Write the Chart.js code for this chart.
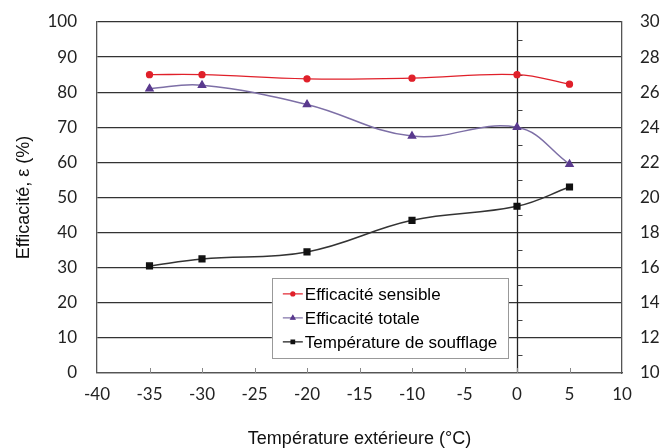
<!DOCTYPE html>
<html>
<head>
<meta charset="utf-8">
<script src="https://cdn.jsdelivr.net/npm/chart.js@4"></script>
<style>
  html, body { margin: 0; padding: 0; background: #fff; }
  #wrap { width: 663px; height: 448px; position: relative; }
</style>
</head>
<body>
<div id="wrap"><canvas id="chart"></canvas></div>
<script>
const temps = [-35, -30, -20, -10, 0, 5];
const sensible = [85, 85, 83.8, 84, 85, 82.3];
const totale = [81, 82, 76.5, 67.5, 70, 59.5];
const soufflage = [16.1, 16.5, 16.9, 18.7, 19.5, 20.6];
const labels = ['Efficacité sensible', 'Efficacité totale', 'Température de soufflage'];

const RED = '#e0202a';
const PURPLE = '#7d6fa6';
const PURPLE_PT = '#5a3a8e';
const BLACK = '#111';

const pts = arr => temps.map((t, i) => ({ x: t, y: arr[i] }));

// vertical line at x=0 with small ticks, bottom ticks, and the inner legend
const extras = {
  id: 'extras',
  beforeDatasetsDraw(chart) {
    const { ctx, chartArea: a, scales: { x, y } } = chart;
    ctx.save();
    ctx.strokeStyle = '#222';
    ctx.lineWidth = 1.3;
    const x0 = Math.round(x.getPixelForValue(0)) + 0.5;
    ctx.beginPath();
    ctx.moveTo(x0, a.top);
    ctx.lineTo(x0, a.bottom);
    ctx.stroke();
    ctx.lineWidth = 1;
    ctx.strokeStyle = '#444';
    for (let v = 5; v < 100; v += 10) {
      const py = Math.round(y.getPixelForValue(v)) + 0.5;
      ctx.beginPath();
      ctx.moveTo(x0, py);
      ctx.lineTo(x0 + 5, py);
      ctx.stroke();
    }
    ctx.strokeStyle = '#888';
    for (let v = -35; v < 10; v += 5) {
      const px = Math.round(x.getPixelForValue(v)) + 0.5;
      ctx.beginPath();
      ctx.moveTo(px, a.bottom);
      ctx.lineTo(px, a.bottom - 5);
      ctx.stroke();
    }
    ctx.restore();
  },
  afterDatasetsDraw(chart) {
    const { ctx, scales: { x, y } } = chart;
    const left = x.getPixelForValue(-23.35);
    const right = x.getPixelForValue(-0.85);
    const top = y.getPixelForValue(27.1);
    const bottom = y.getPixelForValue(4.3);
    ctx.save();
    ctx.fillStyle = '#fff';
    ctx.fillRect(left, top, right - left, bottom - top);
    ctx.strokeStyle = '#999';
    ctx.lineWidth = 1;
    ctx.strokeRect(Math.round(left) + 0.5, Math.round(top) + 0.5, Math.round(right - left), Math.round(bottom - top));
    ctx.font = '17px "Liberation Sans", Arial, sans-serif';
    ctx.textBaseline = 'middle';
    const rows = [
      { c: RED, pc: RED, s: 'circle', r: 2 },
      { c: PURPLE, pc: PURPLE_PT, s: 'triangle', r: 2.5 },
      { c: BLACK, pc: BLACK, s: 'rect', r: 2.5 }
    ];
    rows.forEach((row, i) => {
      const cy = top + 16 + i * 24;
      const lx = left + 11;
      ctx.strokeStyle = row.c;
      ctx.lineWidth = 1.2;
      ctx.beginPath();
      ctx.moveTo(lx, cy);
      ctx.lineTo(lx + 20, cy);
      ctx.stroke();
      ctx.fillStyle = row.pc;
      ctx.strokeStyle = row.pc;
      Chart.helpers.drawPoint(ctx, { pointStyle: row.s, radius: row.r, borderWidth: 1 }, lx + 10, cy);
      ctx.fill();
      ctx.fillStyle = '#000';
      ctx.fillText(labels[i], lx + 22, cy + 1);
    });
    ctx.restore();
  }
};

const fitY = w => s => {
  s.width = w;
  s.paddingTop = 0;
  s.paddingBottom = 0;
};

new Chart(document.getElementById('chart'), {
  type: 'line',
  data: {
    datasets: [{
      label: labels[0],
      data: pts(sensible),
      borderColor: RED,
      backgroundColor: RED,
      borderWidth: 1.3,
      pointStyle: 'circle',
      pointRadius: 3,
      tension: 0.4,
      yAxisID: 'y'
    }, {
      label: labels[1],
      data: pts(totale),
      borderColor: PURPLE,
      backgroundColor: PURPLE_PT,
      pointBorderColor: PURPLE_PT,
      borderWidth: 1.5,
      pointStyle: 'triangle',
      pointRadius: 4,
      tension: 0.4,
      yAxisID: 'y'
    }, {
      label: labels[2],
      data: pts(soufflage),
      borderColor: '#333',
      backgroundColor: BLACK,
      pointBorderColor: BLACK,
      borderWidth: 1.5,
      pointStyle: 'rect',
      pointRadius: 4,
      tension: 0.4,
      yAxisID: 'y1'
    }]
  },
  options: {
    responsive: true,
    maintainAspectRatio: false,
    animation: false,
    layout: { padding: { top: 22, right: 0, left: 0, bottom: 0 } },
    plugins: { legend: { display: false }, tooltip: { enabled: false } },
    scales: {
      x: {
        type: 'linear',
        min: -40,
        max: 10,
        ticks: { stepSize: 5, color: '#222', font: { family: 'Lato', size: 17 }, padding: 11 },
        grid: { drawOnChartArea: false, drawTicks: false },
        border: { color: '#555', width: 1.3 },
        title: { display: true, text: 'Température extérieure (°C)', color: '#111', font: { family: 'Liberation Sans', size: 18 }, padding: { top: 16, bottom: -2 } },
        afterFit: s => { s.height = 75; s.paddingLeft = 0; s.paddingRight = 0; }
      },
      y: {
        position: 'left',
        min: 0,
        max: 100,
        ticks: { stepSize: 10, color: '#222', font: { family: 'Lato', size: 17 }, padding: 20 },
        grid: { color: '#333', lineWidth: 1.3, drawTicks: false },
        border: { color: '#555', width: 1.3 },
        title: { display: true, text: 'Efficacité, ε (%)', color: '#111', font: { family: 'Liberation Sans', size: 18 }, padding: { top: 13, bottom: 0 } },
        afterFit: fitY(97)
      },
      y1: {
        position: 'right',
        min: 10,
        max: 30,
        ticks: { stepSize: 2, color: '#222', font: { family: 'Lato', size: 17 }, padding: 18 },
        grid: { drawOnChartArea: false, drawTicks: false },
        border: { color: '#555', width: 1.3 },
        afterFit: fitY(41)
      }
    }
  },
  plugins: [extras]
});
</script>
</body>
</html>
